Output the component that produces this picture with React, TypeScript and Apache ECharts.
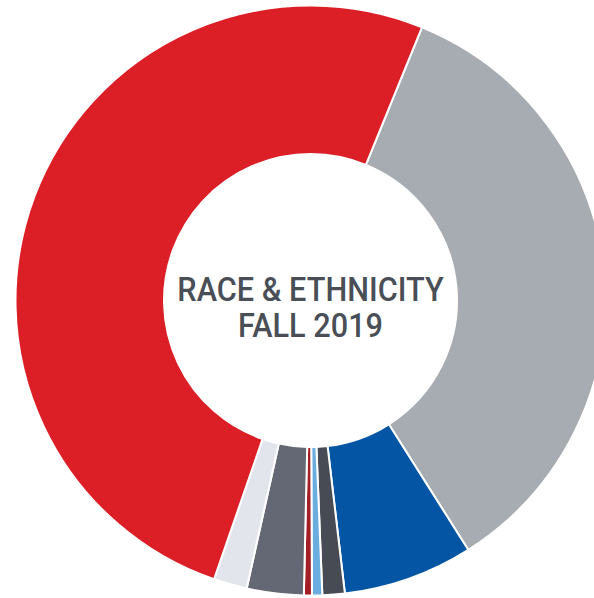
import React, { useEffect, useRef } from "react";
import * as echarts from "echarts";

const categories = [
  "White",
  "Asian",
  "Black or African American",
  "Native Hawaiian or Pacific Islander",
  "American Indian or Alaska Native",
  "Two or More Races",
  "Unknown",
  "Hispanic or Latino",
];
const values = [34.85, 7.12, 1.22, 0.56, 0.44, 3.11, 1.83, 50.86];
const colors = [
  "#a6acb1",
  "#0455a4",
  "#474b53",
  "#6aaee0",
  "#a31f25",
  "#636874",
  "#e2e6ec",
  "#dc1f26",
];
const titleLines = ["RACE & ETHNICITY", "FALL 2019"];

export default function App() {
  const ref = useRef<HTMLDivElement>(null);
  useEffect(() => {
    if (!ref.current) return;
    const chart = echarts.init(ref.current, null, { renderer: "svg" });
    const cx = 310.5;
    const cy = 300.5;
    const font = "500 33px Roboto, 'DejaVu Sans Condensed', sans-serif";
    chart.setOption({
      animation: false,
      backgroundColor: "#ffffff",
      series: [
        {
          type: "pie",
          center: [cx, cy],
          radius: [146.5, 295],
          startAngle: 67.8,
          clockwise: true,
          label: { show: false },
          labelLine: { show: false },
          emphasis: { disabled: true },
          itemStyle: { borderColor: "#ffffff", borderWidth: 2 },
          data: categories.map((name, i) => ({
            name,
            value: values[i],
            itemStyle: { color: colors[i] },
          })),
        },
      ],
      graphic: [
        {
          type: "text",
          x: cx,
          y: 290,
          scaleX: 0.93,
          style: {
            text: titleLines[0],
            fill: "#4a4f57",
            font,
            textAlign: "center",
            textVerticalAlign: "middle",
          },
        },
        {
          type: "text",
          x: cx,
          y: 326,
          scaleX: 0.93,
          style: {
            text: titleLines[1],
            fill: "#4a4f57",
            font,
            textAlign: "center",
            textVerticalAlign: "middle",
          },
        },
      ],
    });
    return () => chart.dispose();
  }, []);
  return (
    <div
      ref={ref}
      style={{ position: "absolute", left: 0, top: 0, width: 594, height: 598 }}
    />
  );
}
